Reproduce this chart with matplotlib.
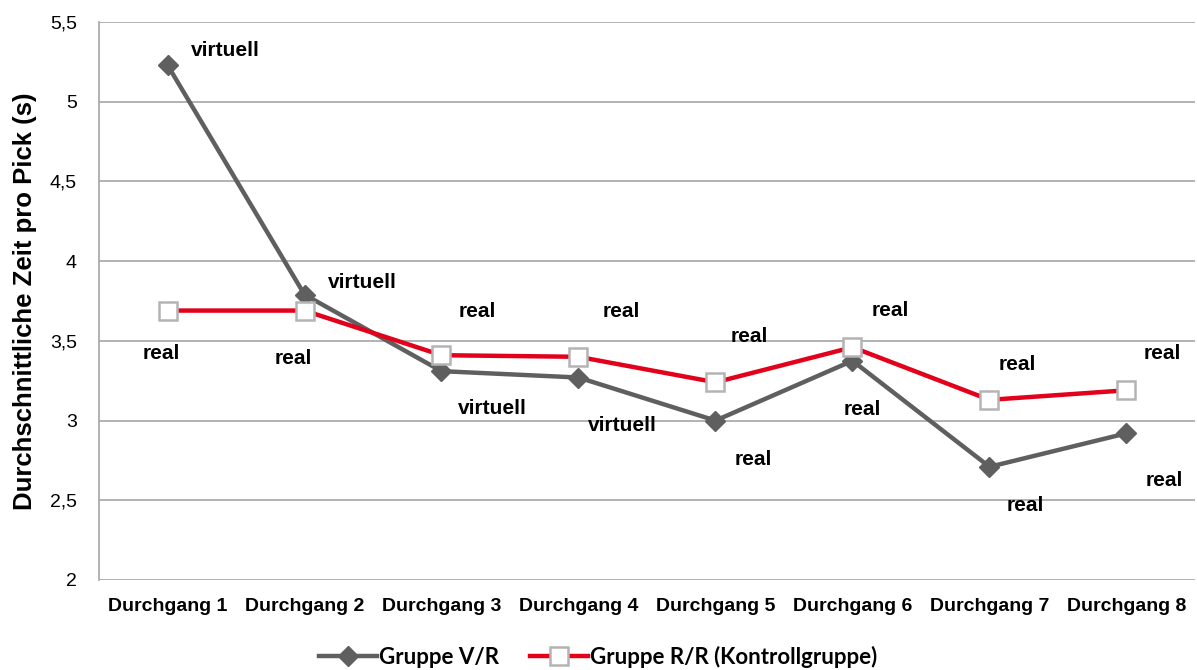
import numpy as np
import matplotlib
matplotlib.use("Agg")
from matplotlib import pyplot as plt
from matplotlib.ticker import FuncFormatter

plt.rcParams["font.family"] = ["Liberation Sans", "DejaVu Sans"]

# %%
durchgaenge = ["Durchgang 1", "Durchgang 2", "Durchgang 3", "Durchgang 4",
               "Durchgang 5", "Durchgang 6", "Durchgang 7", "Durchgang 8"]
gruppe_vr = [5.23, 3.79, 3.31, 3.27, 3.00, 3.375, 2.71, 2.92]
gruppe_rr = [3.69, 3.69, 3.41, 3.40, 3.24, 3.46, 3.13, 3.19]
labels_vr = ["virtuell", "virtuell", "virtuell", "virtuell", "real", "real", "real", "real"]
labels_rr = ["real"] * 8

# label offsets in pixels (text centre relative to point)
off_vr = [(58, 15), (58, 12), (51, -37), (44, -48), (38, -39), (10, -49), (36, -39), (38, -47)]
off_rr = [(-6, -43), (-11, -48), (36, 44), (43, 45), (34, 46), (38, 37), (28, 35), (36, 37)]

# %%
fig = plt.figure(figsize=(11.97, 6.70), dpi=100)
ax = fig.add_axes([99/1197, 1 - 580/670, (1195 - 99)/1197, (580 - 22)/670])

x = np.arange(len(durchgaenge))
ax.plot(x, gruppe_vr, color="#5f5f5f", lw=3.2, marker="D", ms=10.5,
        mfc="#5f5f5f", mec="#5f5f5f", label="Gruppe V/R", zorder=3)
ax.plot(x, gruppe_rr, color="#e2001a", lw=3.2, marker="s", ms=13.5,
        mfc="white", mec="#b4b4b4", mew=1.8, label="Gruppe R/R (Kontrollgruppe)", zorder=4)

for i in range(len(x)):
    ax.annotate(labels_vr[i], (x[i], gruppe_vr[i]), xytext=off_vr[i], textcoords="offset pixels",
                ha="center", va="center", fontsize=15, fontweight="bold", color="black")
    ax.annotate(labels_rr[i], (x[i], gruppe_rr[i]), xytext=off_rr[i], textcoords="offset pixels",
                ha="center", va="center", fontsize=15, fontweight="bold", color="black")

ax.set_xlim(-0.5, len(x) - 0.5)
ax.set_ylim(2, 5.5)
ax.set_yticks(np.arange(2, 5.51, 0.5))
ax.yaxis.set_major_formatter(FuncFormatter(lambda v, p: ("%g" % v).replace(".", ",")))
ax.set_xticks(x)
ax.set_xticklabels(durchgaenge, fontweight="bold", fontsize=14)
ax.tick_params(axis="y", labelsize=14, length=0, pad=16)
ax.tick_params(axis="x", length=0, pad=13)
ax.grid(axis="y", color="#a6a6a6", lw=1.2)
ax.set_axisbelow(True)
for s in ["top", "right", "bottom"]:
    ax.spines[s].set_visible(False)
ax.spines["left"].set_color("#a6a6a6")
ax.spines["left"].set_linewidth(1.2)

ax.set_ylabel("Durchschnittliche Zeit pro Pick (s)", fontsize=18.5, fontweight="bold", labelpad=9)

fig.legend(loc="lower center", bbox_to_anchor=(0.5, -0.027), ncol=2, frameon=False,
           prop={"family": "Lato", "size": 16, "weight": "bold"}, handlelength=2.6,
           columnspacing=1.4, handletextpad=0.1)

plt.savefig("out.png", dpi=100)
